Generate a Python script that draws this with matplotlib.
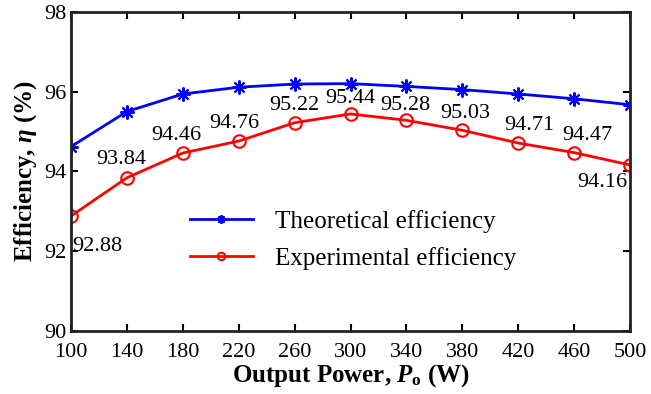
import matplotlib
matplotlib.use('Agg')
import matplotlib.pyplot as plt

plt.rcParams['font.family'] = 'Liberation Serif'
plt.rcParams['mathtext.fontset'] = 'custom'
plt.rcParams['mathtext.rm'] = 'Liberation Serif:bold'
plt.rcParams['mathtext.it'] = 'Liberation Serif:italic:bold'
plt.rcParams['mathtext.bf'] = 'Liberation Serif:bold'

power = [100, 140, 180, 220, 260, 300, 340, 380, 420, 460, 500]
theoretical = [94.62, 95.50, 95.94, 96.11, 96.19, 96.20, 96.13, 96.05, 95.94, 95.82, 95.67]
experimental = [92.88, 93.84, 94.46, 94.76, 95.22, 95.44, 95.28, 95.03, 94.71, 94.47, 94.16]
label_offsets = [(26, -30), (-6, 18), (-6, 18), (-4, 18), (0, 17), (0, 15),
                 (-1, 15), (3, 17), (11, 18), (13, 17), (-28, -17)]

fig = plt.figure(figsize=(6.51, 3.94), dpi=100)
ax = fig.add_axes([0.109, 0.160, 0.859, 0.810])

ax.plot(power, theoretical, color='blue', lw=2, marker=(8, 2, 0), ms=10, mew=1.5,
        label='Theoretical efficiency')
ax.plot(power, experimental, color='red', lw=2, marker='o', ms=9, mew=1.5,
        mfc='none', label='Experimental efficiency')

for x, y, off in zip(power, experimental, label_offsets):
    ax.annotate(f'{y:.2f}', (x, y), xytext=off, textcoords='offset pixels',
                ha='center', va='center', fontsize=16)

ax.set_xlim(100, 500)
ax.set_ylim(90, 98)
ax.set_xticks(power)
ax.set_yticks([90, 92, 94, 96, 98])
ax.tick_params(direction='in', top=True, right=True, length=5, width=1.5,
               labelsize=16)
ax.tick_params(axis='x', pad=9)
ax.tick_params(axis='y', pad=3)
for s in ax.spines.values():
    s.set_linewidth(2)
    s.set_color('#222222')

ax.set_xlabel(r'Output Power, $P_\mathrm{o}$ (W)', fontsize=18, fontweight='bold',
              labelpad=0)
ax.set_ylabel(r'Efficiency, $\eta$ (%)', fontsize=18, fontweight='bold', labelpad=4)

ax.legend(loc='center', bbox_to_anchor=(0.505, 0.285), frameon=False, fontsize=18,
          labelspacing=0.55, handlelength=2.5, handletextpad=0.9, markerscale=0.6)

fig.savefig('out.png', dpi=100)
